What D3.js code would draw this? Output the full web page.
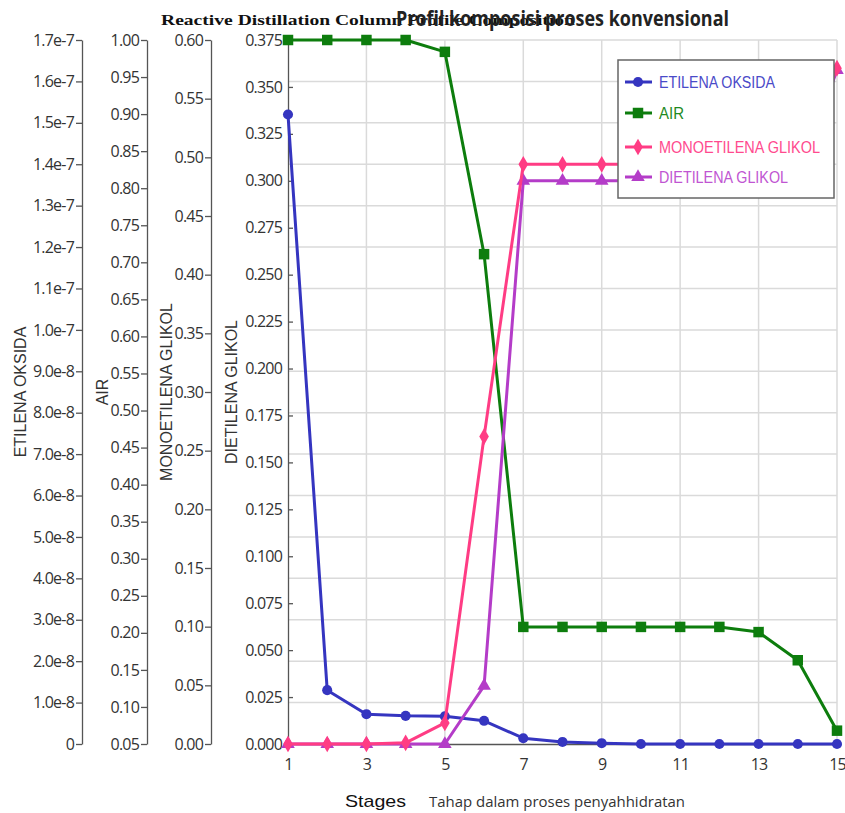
<!DOCTYPE html>
<html>
<head>
<meta charset="utf-8">
<script src="https://cdn.jsdelivr.net/npm/d3@7"></script>
<style>
  body { margin: 0; background: #fff; }
  svg text { font-family: "Open Sans", "Liberation Sans", sans-serif; }
</style>
</head>
<body>
<div class="chart"></div>
<script>
var stages = [1, 2, 3, 4, 5, 6, 7, 8, 9, 10, 11, 12, 13, 14, 15];
var stageTicks = [1, 3, 5, 7, 9, 11, 13, 15];

// each series on its own axis
var etilenaOksida = [1.52e-7, 1.30e-8, 7.2e-9, 6.8e-9, 6.7e-9, 5.6e-9, 1.4e-9, 5e-10, 2e-10, 0, 0, 0, 0, 0, 0];
var air = [1.00, 1.00, 1.00, 1.00, 0.984, 0.711, 0.208, 0.208, 0.208, 0.208, 0.208, 0.208, 0.201, 0.163, 0.068];
var monoetilenaGlikol = [0, 0, 0, 0.001, 0.018, 0.262, 0.494, 0.494, 0.494, 0.494, 0.494, 0.494, 0.494, 0.494, 0.576];
var dietilenaGlikol = [0, 0, 0, 0, 0, 0.031, 0.300, 0.300, 0.300, 0.300, 0.300, 0.300, 0.300, 0.300, 0.359];

var seriesNames = ["ETILENA OKSIDA", "AIR", "MONOETILENA GLIKOL", "DIETILENA GLIKOL"];

var eoTicks = d3.range(0, 18).map(function(i) { return i * 1e-8; });
var airTicks = d3.range(1, 21).map(function(i) { return i * 0.05; });
var megTicks = d3.range(0, 13).map(function(i) { return i * 0.05; });
var degTicks = d3.range(0, 16).map(function(i) { return i * 0.025; });

var width = 845, height = 813;
var plotTop = 40, plotBottom = 744, plotLeft = 288, plotRight = 837;

var svg = d3.select(".chart")
            .append("svg")
            .attr("width", width)
            .attr("height", height);

var x = d3.scaleLinear().domain([1, 15]).range([plotLeft, plotRight]);
var yEO = d3.scaleLinear().domain([0, 1.7e-7]).range([plotBottom, plotTop]);
var yAir = d3.scaleLinear().domain([0.05, 1.0]).range([plotBottom, plotTop]);
var yMEG = d3.scaleLinear().domain([0, 0.6]).range([plotBottom, plotTop]);
var yDEG = d3.scaleLinear().domain([0, 0.375]).range([plotBottom, plotTop]);

// grid
var grid = svg.append("g").attr("stroke", "#dadada").attr("stroke-width", 1.5);
grid.selectAll(".h").data(eoTicks.slice(1)).enter().append("line")
    .attr("x1", plotLeft).attr("x2", plotRight)
    .attr("y1", function(d) { return yEO(d); }).attr("y2", function(d) { return yEO(d); });
grid.selectAll(".v").data(stageTicks.slice(1)).enter().append("line")
    .attr("x1", function(d) { return x(d); }).attr("x2", function(d) { return x(d); })
    .attr("y1", plotTop).attr("y2", plotBottom);

function fmtEO(d) {
  if (d === 0) return "0";
  var e = Math.floor(Math.log10(d) + 1e-9);
  return (d / Math.pow(10, e)).toFixed(1) + "e" + e;
}

function styleAxis(g) {
  g.selectAll("path, line").attr("stroke", "#555").attr("stroke-width", 1.3);
  g.selectAll("text").attr("fill", "#333").style("font-size", "16px")
    .style("font-family", "'Open Sans', sans-serif").attr("letter-spacing", "-0.8");
}

svg.append("g").attr("transform", "translate(82,0)")
   .call(d3.axisLeft(yEO).tickValues(eoTicks).tickFormat(fmtEO).tickSize(6).tickSizeOuter(0).tickPadding(2))
   .call(styleAxis);
svg.append("g").attr("transform", "translate(147,0)")
   .call(d3.axisLeft(yAir).tickValues(airTicks).tickFormat(d3.format(".2f")).tickSize(6).tickSizeOuter(0).tickPadding(2))
   .call(styleAxis);
svg.append("g").attr("transform", "translate(211,0)")
   .call(d3.axisLeft(yMEG).tickValues(megTicks).tickFormat(d3.format(".2f")).tickSize(6).tickSizeOuter(0).tickPadding(2))
   .call(styleAxis);
svg.append("g").attr("transform", "translate(" + plotLeft + ",0)")
   .call(d3.axisLeft(yDEG).tickValues(degTicks).tickFormat(d3.format(".3f")).tickSize(-5).tickSizeOuter(0).tickPadding(6))
   .call(styleAxis);
svg.append("g").attr("transform", "translate(0," + plotBottom + ")")
   .call(d3.axisBottom(x).tickValues(stageTicks).tickFormat(d3.format("d")).tickSize(0).tickSizeOuter(0).tickPadding(15))
   .call(styleAxis);

// axis titles
var titleX = [20, 102, 166, 231];
svg.selectAll(".ytitle").data(seriesNames).enter().append("text")
   .attr("transform", function(d, i) { return "translate(" + titleX[i] + "," + (plotTop + plotBottom) / 2 + ") rotate(-90)"; })
   .attr("text-anchor", "middle").attr("dy", "0.35em")
   .style("font-family", "'Liberation Sans', Arial, sans-serif").style("font-size", "16px")
   .attr("fill", "#333")
   .text(function(d) { return d; });

// series
var series = [
  {name: seriesNames[0], values: etilenaOksida, y: yEO, color: "#3535c0", text: "#4a4ac8", symbol: d3.symbolCircle, size: 80},
  {name: seriesNames[1], values: air, y: yAir, color: "#0d7d0d", text: "#1f8a1f", symbol: d3.symbolSquare, size: 110},
  {name: seriesNames[3], values: dietilenaGlikol, y: yDEG, color: "#b43cc8", text: "#c055d2", symbol: d3.symbolTriangle, size: 80},
  {name: seriesNames[2], values: monoetilenaGlikol, y: yMEG, color: "#ff3c84", text: "#ff4a8e", symbol: d3.symbolDiamond, size: 80}
];

series.forEach(function(s) {
  var line = d3.line()
    .x(function(d, i) { return x(stages[i]); })
    .y(function(d) { return s.y(d); });
  svg.append("path").datum(s.values)
     .attr("d", line).attr("fill", "none")
     .attr("stroke", s.color).attr("stroke-width", 3).attr("stroke-linejoin", "round");
  svg.append("g").selectAll("path").data(s.values).enter().append("path")
     .attr("d", d3.symbol().type(s.symbol).size(s.size))
     .attr("transform", function(d, i) { return "translate(" + x(stages[i]) + "," + s.y(d) + ")"; })
     .attr("fill", s.color);
});

// legend
var legend = svg.append("g").attr("transform", "translate(618,60)");
legend.append("rect").attr("width", 216).attr("height", 138)
      .attr("fill", "#fff").attr("stroke", "#666").attr("stroke-width", 1.5);
var legendOrder = [series[0], series[1], series[3], series[2]];
var legendLen = [116, 25, 161, 129];
var rows = legend.selectAll(".row").data(legendOrder).enter().append("g")
      .attr("transform", function(d, i) { return "translate(0," + [22, 53, 87, 117][i] + ")"; });
rows.append("line").attr("x1", 7).attr("x2", 34)
    .attr("stroke", function(d) { return d.color; }).attr("stroke-width", 3);
rows.append("path")
    .attr("d", function(d) { return d3.symbol().type(d.symbol).size(d.size)(); })
    .attr("transform", "translate(20,0)")
    .attr("fill", function(d) { return d.color; });
rows.append("text").attr("x", 41).attr("dy", "0.36em")
    .attr("fill", function(d) { return d.text; })
    .style("font-family", "'Liberation Sans', Arial, sans-serif").style("font-size", "16px")
    .attr("textLength", function(d, i) { return legendLen[i]; }).attr("lengthAdjust", "spacingAndGlyphs")
    .text(function(d) { return d.name; });

// titles
svg.append("text").attr("x", 161).attr("y", 25)
   .style("font-family", "'Liberation Serif', 'Times New Roman', serif").style("font-size", "15.5px").style("font-weight", "bold")
   .attr("fill", "#111").attr("textLength", 414).attr("lengthAdjust", "spacingAndGlyphs")
   .text("Reactive Distillation Column Profile Composition");
svg.append("text").attr("x", 396).attr("y", 26)
   .style("font-family", "'Open Sans', sans-serif").style("font-size", "21px").style("font-weight", "bold")
   .attr("fill", "#222").attr("textLength", 333).attr("lengthAdjust", "spacingAndGlyphs")
   .text("Profil komposisi proses konvensional");

svg.append("text").attr("x", 345).attr("y", 807)
   .style("font-family", "'Liberation Sans', Arial, sans-serif").style("font-size", "17px")
   .attr("fill", "#111").attr("textLength", 61).attr("lengthAdjust", "spacingAndGlyphs")
   .text("Stages");
svg.append("text").attr("x", 429).attr("y", 807)
   .style("font-family", "'Open Sans', sans-serif").style("font-size", "15px")
   .attr("fill", "#333").attr("textLength", 256).attr("lengthAdjust", "spacingAndGlyphs")
   .text("Tahap dalam proses penyahhidratan");
</script>
</body>
</html>
